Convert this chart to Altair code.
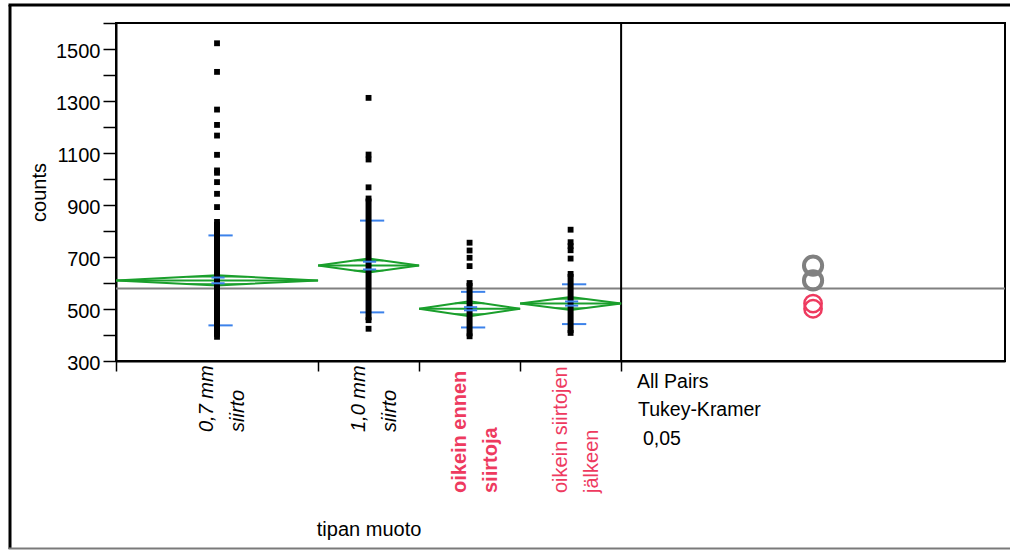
import math
import altair as alt
import pandas as pd

# ---------------- data ----------------
categories = ["0,7 mm siirto", "1,0 mm siirto", "oikein ennen siirtoja", "oikein siirtojen jälkeen"]
label_lines = ["0,7 mm\nsiirto", "1,0 mm\nsiirto", "oikein ennen\nsiirtoja", "oikein siirtojen\njälkeen"]
group_width = [2, 1, 1, 1]          # relative column widths (proportional to group size)
means = [610, 667, 501, 521]
ci_half = [19.5, 27, 29, 25]        # half height of the means diamonds
sd_hi = [783, 840, 566, 595]        # mean + std dev line
sd_lo = [437, 487, 429, 442]        # mean - std dev line
se = [11, 15, 6, 8]                 # mean error bars
grand_mean = 579
sparse_points = [
    [1522, 1412, 1267, 1208, 1167, 1093, 1033, 1024, 988, 943, 892],
    [1312, 1094, 1075, 968, 424],
    [755, 725, 697, 665],
    [805, 757, 742, 726, 694],
]
dense_lo = [393, 457, 395, 408]     # densely packed run of points (from..to)
dense_hi = [835, 925, 600, 635]
y_ticks = list(range(300, 1601, 100))
side_texts = ["All Pairs", "Tukey-Kramer", "0,05"]

# ---------------- styles / layout ----------------
GREEN = "#1a9f2c"
BLUE = "#3c82ea"
RED = "#ee3a5f"
GRAY = "#808080"
circle_colors = [GRAY, GRAY, RED, RED]
circle_widths = [4, 4, 2.5, 2.5]
circle_sizes = [330, 330, 300, 300]
label_colors = ["black", "black", RED, RED]
label_styles = ["italic", "italic", "normal", "normal"]
label_weights = ["normal", "normal", "bold", "normal"]
label_start = [409, 409, 470, 470]   # px from plot top where each label block starts
COMP_PANEL = 3.8                     # width of comparison-circle panel in column units
W, H = 889, 338
FONT = "Liberation Sans"

lefts = [sum(group_width[:i]) for i in range(len(group_width))]
centers = [l + w / 2 for l, w in zip(lefts, group_width)]
total = sum(group_width)
bounds = lefts + [total]

X_SC = alt.Scale(domain=[0, total + COMP_PANEL], nice=False, zero=False)
Y_SC = alt.Scale(domain=[300, 1600], nice=False, zero=False)
X_AX = alt.Axis(values=bounds, labels=False, title="tipan muoto", titleX=(total / (total + COMP_PANEL)) * W / 2,
                titleY=174, titleAlign="center", titleBaseline="alphabetic", titleFontSize=20,
                titleFontWeight="normal", titleFont=FONT, titleColor="black",
                tickSize=10, tickColor="black", tickWidth=1.5, domainColor="black", domainWidth=2, grid=False)
Y_AX = alt.Axis(values=y_ticks, format="d", labelExpr="(datum.value - 300) % 200 == 0 ? datum.label : ''",
                labelOverlap=False, labelFontSize=20, labelFont=FONT, labelColor="black", labelPadding=3,
                labelBaseline="alphabetic", labelOffset=8,
                title="counts", titleAngle=270, titleX=-71, titleY=H / 2, titleAlign="center",
                titleBaseline="alphabetic", titleFontSize=20, titleFontWeight="normal", titleFont=FONT,
                titleColor="black", tickSize=13, tickColor="black", tickWidth=1.5, domainColor="black",
                domainWidth=2, grid=False)


def X(f):
    return alt.X(f, type="quantitative", scale=X_SC, axis=X_AX)


def Y(f):
    return alt.Y(f, type="quantitative", scale=Y_SC, axis=Y_AX)


layers = []

# grand mean line
layers.append(alt.Chart(pd.DataFrame({"y": [grand_mean]})).mark_rule(color=GRAY, strokeWidth=2).encode(y=Y("y")))

# divider between panels
layers.append(alt.Chart(pd.DataFrame({"x": [total]})).mark_rule(color="black", strokeWidth=2).encode(x=X("x")))

# means diamonds
drows, mrows, orows, sdrows, serows = [], [], [], [], []
k = 1 - 1 / math.sqrt(2)
for i, cat in enumerate(categories):
    xl, xr, xc = lefts[i], lefts[i] + group_width[i], centers[i]
    m, c = means[i], ci_half[i]
    for o, (xx, yy) in enumerate([(xl, m), (xc, m + c), (xr, m), (xc, m - c), (xl, m)]):
        drows.append({"g": cat, "o": o, "x": xx, "y": yy})
    mrows.append({"x": xl, "x2": xr, "y": m})
    hw = k * group_width[i] / 2
    for s in (1, -1):
        orows.append({"x": xc - hw, "x2": xc + hw, "y": m + s * c / math.sqrt(2)})
    off = 0.035
    for v in (sd_hi[i], sd_lo[i]):
        sdrows.append({"x": xc + off - 0.12, "x2": xc + off + 0.12, "y": v})
    for s in (1, -1):
        serows.append({"x": xc + 0.01 - 0.065, "x2": xc + 0.01 + 0.065, "y": m + s * se[i]})

layers.append(alt.Chart(pd.DataFrame(drows)).mark_line(color=GREEN, strokeWidth=2).encode(
    x=X("x"), y=Y("y"), detail="g:N", order="o:Q"))
layers.append(alt.Chart(pd.DataFrame(mrows)).mark_rule(color=GREEN, strokeWidth=2).encode(
    x=X("x"), x2="x2:Q", y=Y("y")))
layers.append(alt.Chart(pd.DataFrame(orows)).mark_rule(color=GREEN, strokeWidth=1.5).encode(
    x=X("x"), x2="x2:Q", y=Y("y")))
layers.append(alt.Chart(pd.DataFrame(sdrows)).mark_rule(color=BLUE, strokeWidth=2).encode(
    x=X("x"), x2="x2:Q", y=Y("y")))

# data points
prow, drow = [], []
for i, cat in enumerate(categories):
    for v in sparse_points[i] + [dense_lo[i], dense_hi[i]]:
        prow.append({"x": centers[i], "y": v})
    drow.append({"x": centers[i], "y": dense_lo[i], "y2": dense_hi[i]})
layers.append(alt.Chart(pd.DataFrame(drow)).mark_rule(color="black", strokeWidth=6).encode(
    x=X("x"), y=Y("y"), y2="y2:Q"))
layers.append(alt.Chart(pd.DataFrame(prow)).mark_square(size=34, color="black", opacity=1).encode(
    x=X("x"), y=Y("y")))
layers.append(alt.Chart(pd.DataFrame(serows)).mark_rule(color=BLUE, strokeWidth=2).encode(
    x=X("x"), x2="x2:Q", y=Y("y")))

# comparison circles
for i, cat in enumerate(categories):
    layers.append(alt.Chart(pd.DataFrame({"x": [total + COMP_PANEL / 2], "y": [means[i]]})).mark_point(
        shape="circle", filled=False, size=circle_sizes[i], strokeWidth=circle_widths[i],
        color=circle_colors[i], opacity=1
    ).encode(x=X("x"), y=Y("y")))

# category labels
for i, cat in enumerate(categories):
    layers.append(alt.Chart(pd.DataFrame({"x": [centers[i]], "t": [label_lines[i]]})).mark_text(
        angle=270, align="left", baseline="alphabetic", lineBreak="\n", lineHeight=31, fontSize=20,
        font=FONT, fontStyle=label_styles[i], fontWeight=label_weights[i], color=label_colors[i], xOffset=-4
    ).encode(x=X("x"), y=alt.value(label_start[i]), text="t:N"))

# comparison panel texts
side_pos = [(521, 364.5), (522, 393), (527, 422)]
for t, (px, py) in zip(side_texts, side_pos):
    layers.append(alt.Chart(pd.DataFrame({"t": [t]})).mark_text(
        align="left", baseline="alphabetic", fontSize=19.5, font=FONT, color="black"
    ).encode(x=alt.value(px), y=alt.value(py), text="t:N"))

# outer frame
one = pd.DataFrame({"a": [0]})
layers.append(alt.Chart(one).mark_rule(color="black", strokeWidth=3).encode(
    x=alt.value(-106), y=alt.value(-18), y2=alt.value(526)))
layers.append(alt.Chart(one).mark_rule(color="black", strokeWidth=3).encode(
    x=alt.value(-107.5), x2=alt.value(894), y=alt.value(-18)))
layers.append(alt.Chart(one).mark_rule(color="#7a7a7a", strokeWidth=2).encode(
    x=alt.value(-107.5), x2=alt.value(894), y=alt.value(525.5)))

chart = alt.layer(*layers).properties(
    width=W, height=H,
    padding={"left": 116, "top": 23, "right": 5, "bottom": 189},
    autosize=alt.AutoSizeParams(type="none"),
    background="white",
).configure(font=FONT).configure_view(stroke="black", strokeWidth=2)

chart.save("out.html", embed_options={"renderer": "svg", "actions": False})
